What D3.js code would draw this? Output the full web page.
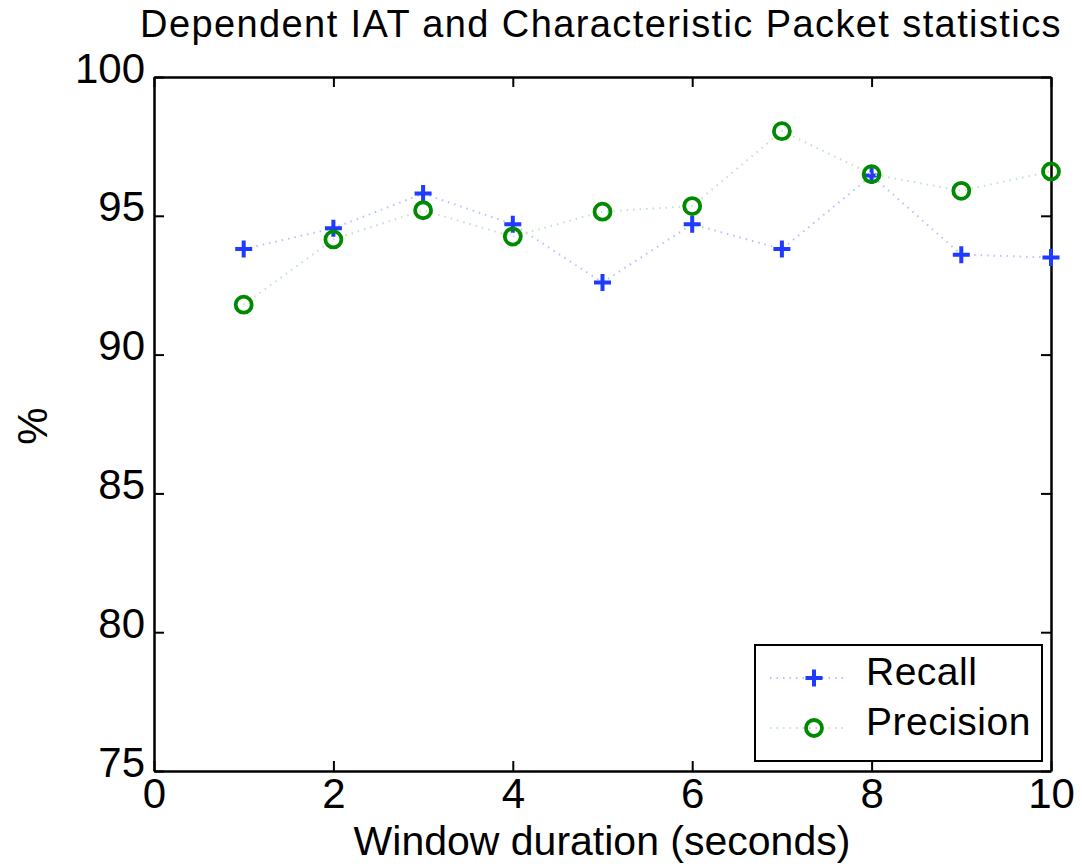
<!DOCTYPE html>
<html>
<head>
<meta charset="utf-8">
<script src="https://cdn.jsdelivr.net/npm/d3@7"></script>
<style>
  body { margin: 0; background: #fff; }
  text { font-family: "Liberation Sans", Arial, sans-serif; fill: #000; }
</style>
</head>
<body>
<div id="chart"></div>
<script>
// window durations and scores (%)
const windows = [1, 2, 3, 4, 5, 6, 7, 8, 9, 10];
const recall = [93.8, 94.55, 95.8, 94.7, 92.6, 94.7, 93.8, 96.45, 93.6, 93.5];
const precision = [91.8, 94.15, 95.2, 94.25, 95.15, 95.35, 98.05, 96.5, 95.9, 96.6];
const xTicks = [0, 2, 4, 6, 8, 10];
const yTicks = [75, 80, 85, 90, 95, 100];

const W = 1082, H = 867;
const margin = {top: 77, right: 31, bottom: 96, left: 154};
const width = W - margin.left - margin.right;
const height = H - margin.top - margin.bottom;

const svg = d3.select("#chart").append("svg")
    .attr("width", W)
    .attr("height", H);

const g = svg.append("g")
    .attr("transform", `translate(${margin.left},${margin.top})`);

const x = d3.scaleLinear().domain([0, 10]).range([0, width]);
const y = d3.scaleLinear().domain([75, 100]).range([height, 0]);

// axes, ticks pointing inward like matlab
const tickLen = 10;
const axisBottomG = g.append("g")
    .attr("transform", `translate(0,${height})`)
    .call(d3.axisBottom(x).tickValues(xTicks).tickSizeInner(-tickLen).tickSizeOuter(0));
const axisLeftG = g.append("g")
    .call(d3.axisLeft(y).tickValues(yTicks).tickSizeInner(-tickLen).tickSizeOuter(0).tickPadding(9));
const axisTopG = g.append("g")
    .call(d3.axisTop(x).tickValues(xTicks).tickSizeInner(-tickLen).tickSizeOuter(0).tickFormat(""));
const axisRightG = g.append("g")
    .attr("transform", `translate(${width},0)`)
    .call(d3.axisRight(y).tickValues(yTicks).tickSizeInner(-tickLen).tickSizeOuter(0).tickFormat(""));

[axisBottomG, axisLeftG, axisTopG, axisRightG].forEach(a => {
    a.select(".domain").attr("stroke", "#000").attr("stroke-width", 2.5);
    a.selectAll(".tick line").attr("stroke", "#000").attr("stroke-width", 2);
    a.selectAll(".tick text").style("font-size", "42px").attr("fill", "#000");
});
axisBottomG.selectAll(".tick text").attr("y", 37).attr("dy", 0);
axisLeftG.selectAll(".tick text").attr("dy", 5);

const series = [
    {name: "Recall", values: recall, color: "#1f3bff", line: "#b4c0ff", marker: "plus"},
    {name: "Precision", values: precision, color: "#008a00", line: "#c0e4c0", marker: "circle"}
];

const line = d3.line()
    .x(d => x(d[0]))
    .y(d => y(d[1]));

function drawMarker(sel, s, cx, cy) {
    if (s.marker === "plus") {
        sel.append("path")
            .attr("d", `M${cx - 8.5},${cy}H${cx + 8.5}M${cx},${cy - 8.5}V${cy + 8.5}`)
            .attr("stroke", s.color)
            .attr("stroke-width", 4)
            .attr("fill", "none");
    } else {
        sel.append("circle")
            .attr("cx", cx).attr("cy", cy).attr("r", 8)
            .attr("stroke", s.color)
            .attr("stroke-width", 3.8)
            .attr("fill", "none");
    }
}

series.forEach(s => {
    const pts = windows.map((w, i) => [w, s.values[i]]);
    g.append("path")
        .datum(pts)
        .attr("d", line)
        .attr("fill", "none")
        .attr("stroke", s.line)
        .attr("stroke-width", 2)
        .attr("stroke-dasharray", "1.5,5");
    const mg = g.append("g");
    pts.forEach(p => drawMarker(mg, s, x(p[0]), y(p[1])));
});

// legend
const legend = svg.append("g").attr("transform", "translate(755,645)");
legend.append("rect")
    .attr("width", 287).attr("height", 116)
    .attr("fill", "#fff")
    .attr("stroke", "#000")
    .attr("stroke-width", 2);
series.forEach((s, i) => {
    const ly = 33 + i * 50;
    legend.append("line")
        .attr("x1", 15).attr("x2", 93)
        .attr("y1", ly).attr("y2", ly)
        .attr("stroke", s.line)
        .attr("stroke-width", 2)
        .attr("stroke-dasharray", "1.5,5");
    drawMarker(legend, s, 59, ly);
    legend.append("text")
        .attr("x", 111).attr("y", ly + 7)
        .style("font-size", "39px")
        .style("letter-spacing", "0.5px")
        .text(s.name);
});

// title and axis labels
svg.append("text")
    .attr("x", 601).attr("y", 37)
    .attr("text-anchor", "middle")
    .style("font-size", "38px")
    .style("letter-spacing", "1.4px")
    .text("Dependent IAT and Characteristic Packet statistics");

svg.append("text")
    .attr("x", 602).attr("y", 855)
    .attr("text-anchor", "middle")
    .style("font-size", "41px")
    .text("Window duration (seconds)");

svg.append("text")
    .attr("transform", "translate(47,426) rotate(-90)")
    .attr("text-anchor", "middle")
    .style("font-size", "42px")
    .text("%");
</script>
</body>
</html>
